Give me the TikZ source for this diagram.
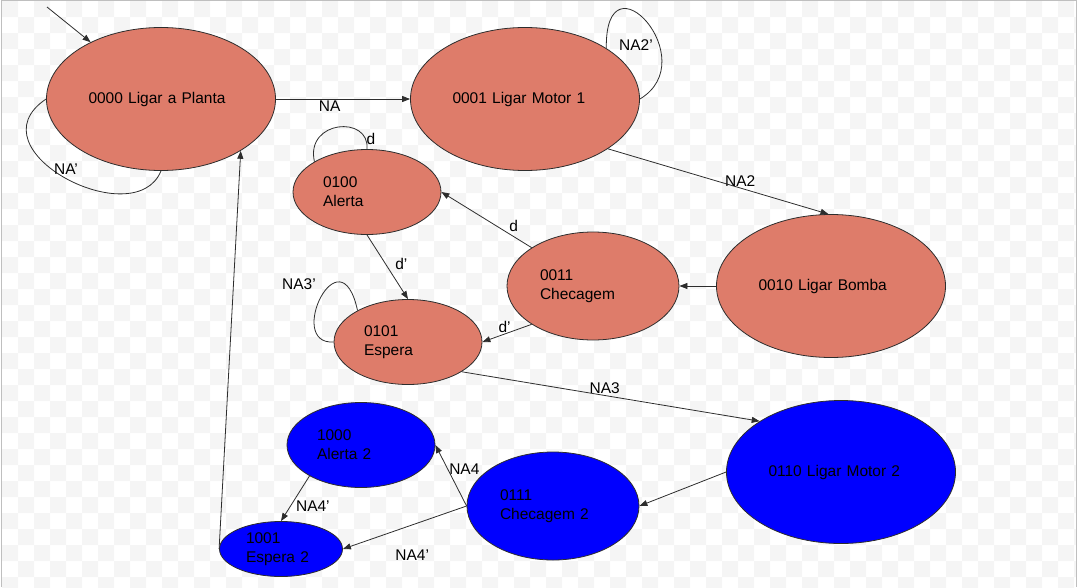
\documentclass[tikz,border=0pt]{standalone}
\usepackage{fontspec}
\setmainfont{Liberation Sans}
\usetikzlibrary{shapes.geometric,arrows.meta,positioning}
\definecolor{salmon}{RGB}{222,124,106}
\definecolor{stateblue}{RGB}{0,0,255}
\definecolor{edgegray}{RGB}{45,45,45}
\definecolor{checker}{RGB}{245,245,245}

\begin{document}
\begin{tikzpicture}[x=1pt,y=-1pt,font=\fontsize{15.5}{19}\selectfont,
  state/.style={ellipse,draw=edgegray,line width=0.8pt,inner sep=0pt,align=left},
  bigstate/.style={state,minimum width=229pt,minimum height=143pt,text width=145pt},
  midstate/.style={state,minimum width=172pt,minimum height=108pt,text width=106pt},
  smallstate/.style={state,minimum width=148pt,minimum height=85pt,text width=88pt},
  tinystate/.style={state,minimum width=123pt,minimum height=55pt,text width=70pt},
  trans/.style={edgegray,line width=0.8pt,-{Triangle[length=8pt,width=6pt]}},
  selfloop/.style={draw=edgegray,line width=0.8pt},
  lbl/.style={inner sep=1pt,text=black}]
\useasboundingbox (0,0) rectangle (1077,587);
% background
\begin{scope}
\clip (0,0) rectangle (1077,587);
\foreach \i in {0,...,33}{
  \foreach \j in {0,...,18}{
    \fill[checker] ({2+32*\i},{1+32*\j}) rectangle ++(16,16)
                   ({18+32*\i},{17+32*\j}) rectangle ++(16,16);
  }
}
\end{scope}
\draw[gray!50] (1,587) -- (1,0.5) -- (1076.5,0.5) -- (1076.5,587);

% states
\node[bigstate,fill=salmon] (A0) at (161,99) {0000 Ligar a Planta};
\node[bigstate,fill=salmon] (A1) at (525,99) {0001 Ligar Motor 1};
\node[bigstate,fill=salmon] (A2) at (831,286) {0010 Ligar Bomba};
\node[midstate,fill=salmon] (A3) at (593,286) {0011\\Checagem};
\node[smallstate,fill=salmon] (A4) at (367,192) {0100\\Alerta};
\node[smallstate,fill=salmon] (A5) at (408,342) {0101\\Espera};
\node[bigstate,fill=stateblue] (A6) at (841,472) {0110 Ligar Motor 2};
\node[midstate,fill=stateblue] (A7) at (553,506) {0111\\Checagem 2};
\node[smallstate,fill=stateblue] (A8) at (361,445) {1000\\Alerta 2};
\node[tinystate,fill=stateblue] (A9) at (281,549) {1001\\Espera 2};

\coordinate (init) at (47,7);

% transitions
\path[trans]
(init) edge (A0)
(A0) edge node[lbl,below,pos=0.4] {NA} (A1)
(A1.-31) edge node[lbl,above,pos=0.6] {NA2} (A2.92)
(A2) edge (A3)
(A3.148) edge node[lbl,above=3pt,pos=0.2] {d} (A4.east)
(A3.212) edge node[lbl,above,pos=0.55] {d'} (A5.east)
(A4.south) edge node[lbl,right=8pt,pos=0.46] {d'} (A5.north)
(A5.-29) edge node[lbl,above,pos=0.48] {NA3} (A6.148)
(A6.west) edge (A7.east)
(A7.west) edge node[lbl,right,pos=0.6] {NA4} (A8.east)
(A7.west) edge node[lbl,below=24pt,pos=0.44] {NA4'} (A9.east)
(A8.211) edge node[lbl,right=4pt,pos=0.66] {NA4'} (A9.north)
(A9.west) edge (A0.-33)
;

% self loops
\draw[selfloop] (A0.west) .. controls (-30,150) and (135,235) .. (A0.south);
\draw[selfloop] (A1.32) .. controls (605,-50) and (705,60) .. (A1.east);
\draw[selfloop] (A4.150) .. controls (305,120) and (370,115) .. (A4.north);
\draw[selfloop] (A5.west) .. controls (285,345) and (340,230) .. (A5.148);
\node[lbl] (lna0) at (66,169) {NA'};
\node[lbl] (lna2) at (636,45) {NA2'};
\node[lbl] (ld) at (371,139) {d};
\node[lbl] (lna3) at (299,284) {NA3'};
\end{tikzpicture}
\end{document}
